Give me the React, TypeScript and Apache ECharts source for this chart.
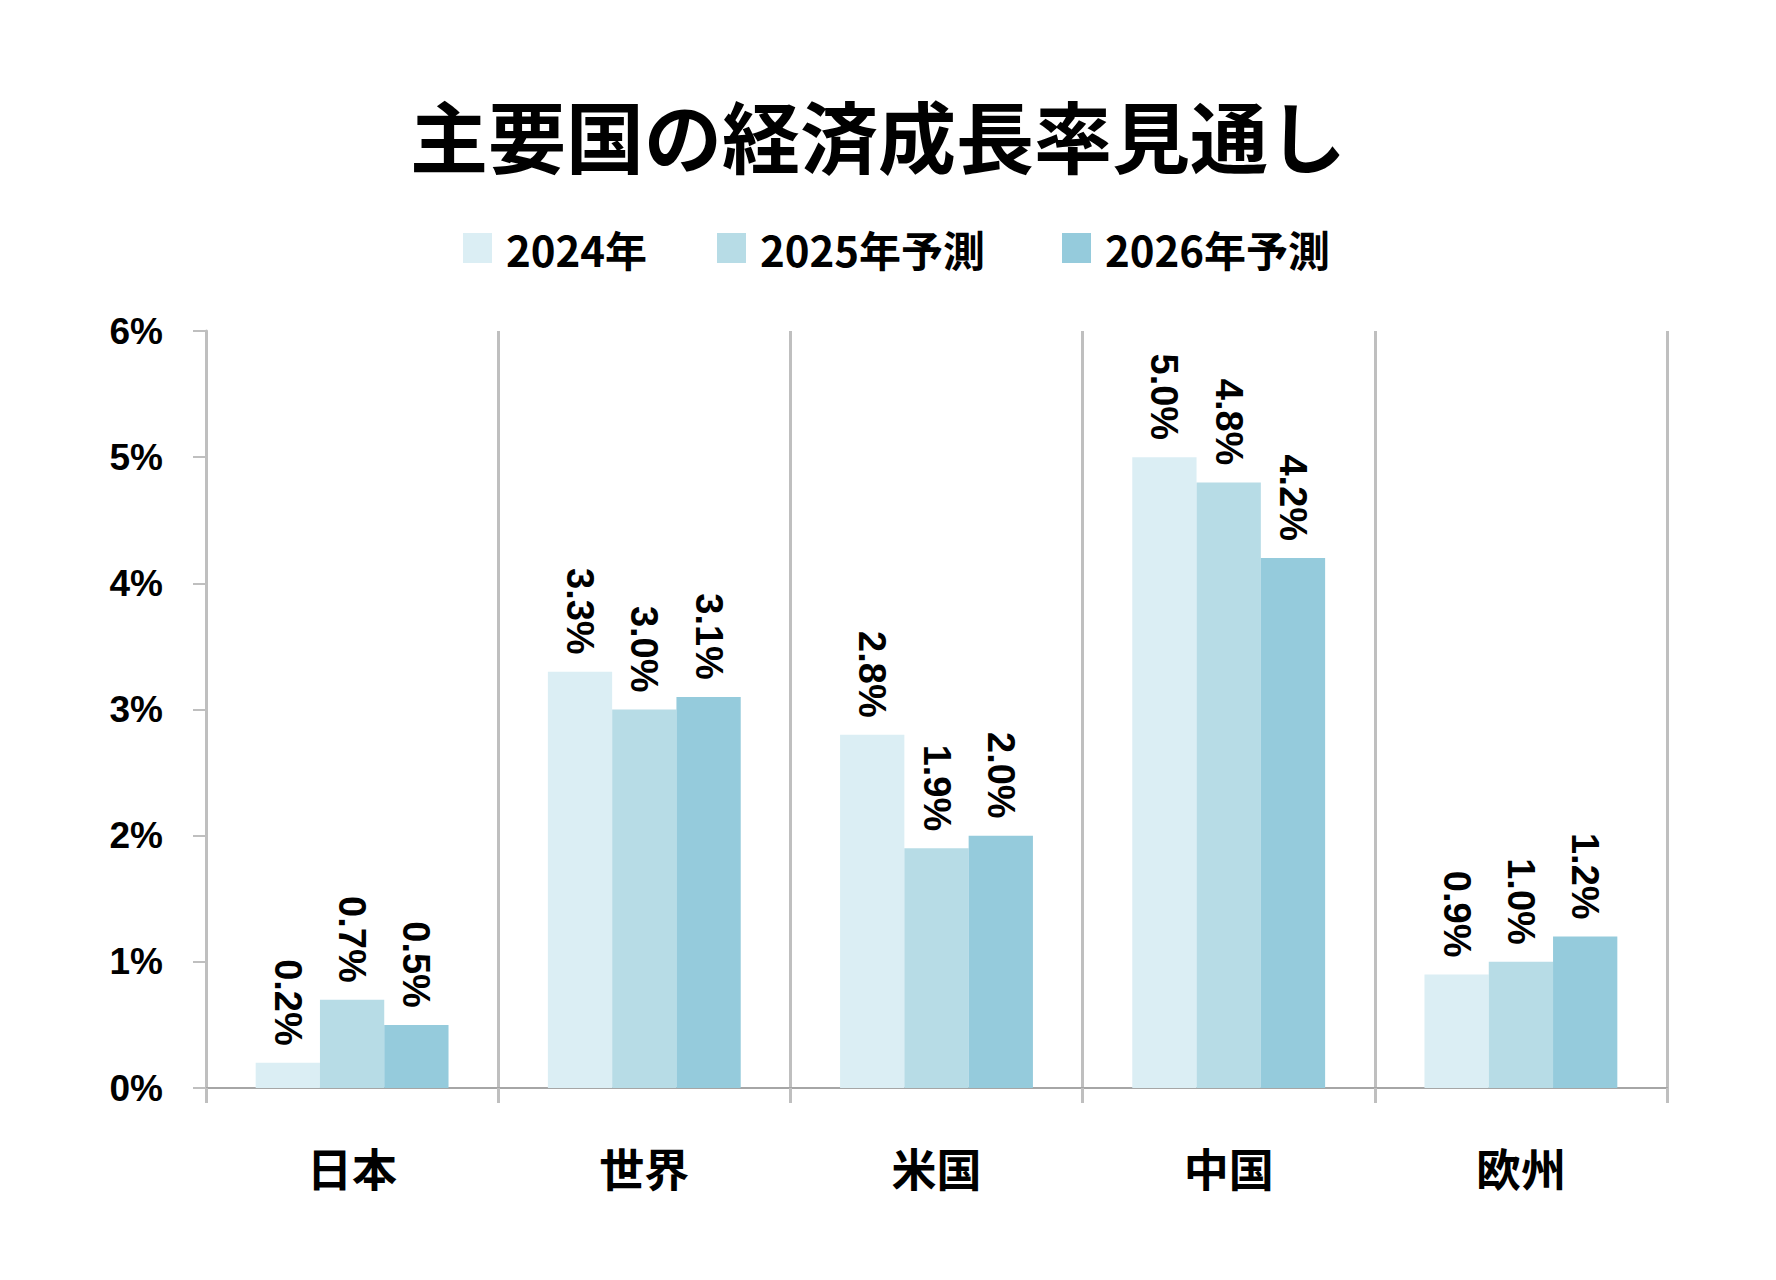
import React, { useEffect, useRef } from "react";
import * as echarts from "echarts";

const TITLE = "主要国の経済成長率見通し";
const CATEGORIES = ["日本", "世界", "米国", "中国", "欧州"];
const SERIES_NAMES = ["2024年", "2025年予測", "2026年予測"];
const VALUES_2024 = [0.2, 3.3, 2.8, 5.0, 0.9];
const VALUES_2025 = [0.7, 3.0, 1.9, 4.8, 1.0];
const VALUES_2026 = [0.5, 3.1, 2.0, 4.2, 1.2];
const Y_TICKS = { min: 0, max: 6, interval: 1 };
const COLORS = ["#dbeef4", "#b7dce6", "#95cbdc"];

const CJK = '"Noto Sans CJK JP", sans-serif';
const NUM = '"Liberation Sans", Arial, "Noto Sans CJK JP", sans-serif';

export default function App() {
  const ref = useRef<HTMLDivElement>(null);
  useEffect(() => {
    document.body.style.margin = "0";
    const chart = echarts.init(ref.current!, null, { renderer: "svg" });
    const seriesData = [VALUES_2024, VALUES_2025, VALUES_2026];
    const legendLefts = [463, 717, 1062];
    const option: any = {
      animation: false,
      backgroundColor: "#ffffff",
      title: {
        text: TITLE,
        left: 878,
        textAlign: "center",
        top: 95,
        padding: 0,
        textStyle: { fontFamily: CJK, fontWeight: "bold", fontSize: 78, color: "#000" },
      },
      legend: SERIES_NAMES.map((n, i) => ({
        data: [n],
        left: legendLefts[i],
        top: 227,
        padding: 0,
        itemWidth: 29,
        itemHeight: 30,
        icon: "rect",
        textStyle: {
          fontFamily: CJK,
          fontWeight: "bold",
          fontSize: 42,
          color: "#000",
          padding: [0, 0, 0, 9],
        },
      })),
      grid: { left: 206, right: 109, top: 331, bottom: 192, containLabel: false },
      xAxis: {
        type: "category",
        data: CATEGORIES,
        boundaryGap: true,
        axisLine: { show: true, lineStyle: { color: "#a6a6a6", width: 2 } },
        axisTick: { show: true, interval: 0, length: 15, lineStyle: { color: "#bfbfbf", width: 3 } },
        splitLine: { show: true, interval: 0, lineStyle: { color: "#bfbfbf", width: 3 } },
        axisLabel: {
          margin: 57,
          interval: 0,
          fontFamily: CJK,
          fontWeight: "bold",
          fontSize: 45,
          color: "#000",
        },
      },
      yAxis: {
        type: "value",
        min: Y_TICKS.min,
        max: Y_TICKS.max,
        interval: Y_TICKS.interval,
        axisLine: { show: true, lineStyle: { color: "#bfbfbf", width: 3 } },
        axisTick: { show: true, length: 13, lineStyle: { color: "#bfbfbf", width: 2 } },
        splitLine: { show: false },
        axisLabel: {
          margin: 43,
          formatter: "{value}%",
          fontFamily: NUM,
          fontWeight: "bold",
          fontSize: 37,
          color: "#000",
        },
      },
      series: SERIES_NAMES.map((n, i) => ({
        name: n,
        type: "bar",
        data: seriesData[i],
        barGap: "0%",
        barCategoryGap: "34%",
        itemStyle: { color: COLORS[i] },
        label: {
          show: true,
          position: "top",
          distance: 17,
          rotate: -90,
          align: "right",
          verticalAlign: "middle",
          formatter: (p: any) => p.value.toFixed(1) + "%",
          fontFamily: NUM,
          fontWeight: "bold",
          fontSize: 38,
          color: "#000",
        },
      })),
    };
    chart.setOption(option);
    return () => chart.dispose();
  }, []);
  return (
    <div
      ref={ref}
      style={{ position: "absolute", left: 0, top: 0, width: 1776, height: 1280, background: "#fff" }}
    />
  );
}
